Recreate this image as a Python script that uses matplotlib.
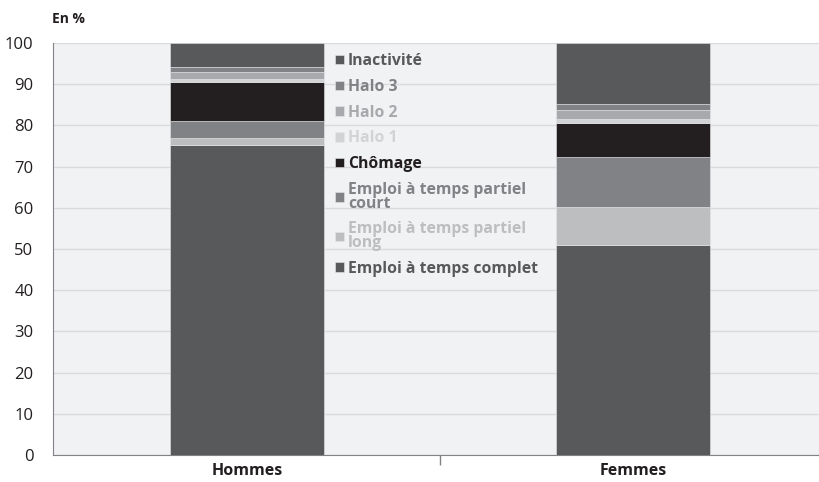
import numpy as np
import matplotlib.pyplot as plt

plt.rcParams['font.family'] = ['Open Sans', 'DejaVu Sans']

groups = ["Hommes", "Femmes"]
series = ["Emploi à temps complet", "Emploi à temps partiel\nlong", "Emploi à temps partiel\ncourt",
          "Chômage", "Halo 1", "Halo 2", "Halo 3", "Inactivité"]
complet = [75.2, 51.0]
partiel_long = [1.7, 9.2]
partiel_court = [4.2, 12.1]
chomage = [9.3, 8.3]
halo1 = [0.9, 0.9]
halo2 = [1.7, 2.2]
halo3 = [1.2, 1.5]
inactivite = [5.8, 14.8]
values = [complet, partiel_long, partiel_court, chomage, halo1, halo2, halo3, inactivite]
colors = ["#58595b", "#bcbec0", "#808285", "#231f20", "#d1d3d4", "#a7a9ac", "#808285", "#58595b"]

fig = plt.figure(figsize=(8.2, 4.82), dpi=100)
ax = fig.add_axes([0.0646, 0.056, 0.9354, 0.855])
ax.set_facecolor("#f1f2f4")

x = np.arange(len(groups))
bottom = np.zeros(len(groups))
handles = []
for lab, vals, col in zip(series, values, colors):
    b = ax.bar(x, vals, width=0.4, bottom=bottom, color=col, edgecolor="#e6e7e8",
               linewidth=0.4, label=lab, zorder=3)
    handles.append(b)
    bottom += np.array(vals)

ax.set_xlim(-0.503, 1.484)
ax.set_ylim(0, 100)
ax.set_yticks(range(0, 101, 10))
ax.yaxis.grid(True, color="#d9dadc", linewidth=1, zorder=0)
ax.tick_params(axis="y", length=0, labelsize=12, colors="#231f20", pad=14)
ax.set_xticks(x)
ax.set_xticklabels(groups, fontweight="bold", fontsize=11.5)
ax.set_xticks([0.5], minor=True)
ax.tick_params(axis="x", which="major", length=0, pad=6, colors="#231f20")
ax.tick_params(axis="x", which="minor", length=7, color="#808285", width=1)
for s in ["top", "right"]:
    ax.spines[s].set_visible(False)
ax.spines["left"].set_color("#808285")
ax.spines["bottom"].set_color("#808285")

leg = ax.legend(handles[::-1], series[::-1], loc="upper left", bbox_to_anchor=(0.36, 0.99),
                frameon=False, handlelength=0.55, handleheight=0.55, handletextpad=0.25,
                labelspacing=0.62, borderaxespad=0,
                prop={"weight": "bold", "size": 11.3})
for t, c in zip(leg.get_texts(), colors[::-1]):
    t.set_color(c)
    t.set_linespacing(0.8)

fig.text(0.063, 0.953, "En %", fontweight="bold", fontsize=10, color="#231f20")

fig.savefig("out.png", dpi=100)
